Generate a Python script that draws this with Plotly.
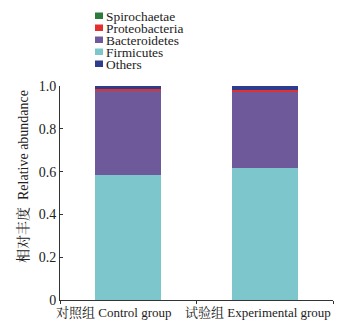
import plotly.graph_objects as go

# Sample groups and phylum-level relative abundance
groups = ["对照组 Control group", "试验组 Experimental group"]
firmicutes = [0.585, 0.615]
bacteroidetes = [0.393, 0.357]
spirochaetae = [0.0004, 0.0004]
proteobacteria = [0.008, 0.010]
others = [0.0136, 0.0176]

y_ticks = [0, 0.2, 0.4, 0.6, 0.8, 1.0]
y_tick_text = ["0", "0.2", "0.4", "0.6", "0.8", "1.0"]
y_title = "相对丰度  Relative abundance"

# Stacking order (bottom to top)
stack = [
    ("Firmicutes", firmicutes, "#7dc7cc"),
    ("Bacteroidetes", bacteroidetes, "#6e5a9a"),
    ("Spirochaetae", spirochaetae, "#2c7a3c"),
    ("Proteobacteria", proteobacteria, "#e2302e"),
    ("Others", others, "#2c3d8e"),
]
# Legend listing order (top to bottom)
legend_order = ["Spirochaetae", "Proteobacteria", "Bacteroidetes", "Firmicutes", "Others"]
colors = {name: c for name, _, c in stack}

SERIF = "'Liberation Serif', 'Times New Roman', 'Noto Serif CJK SC', 'Noto Sans CJK SC', serif"
FS = 14
TXT = "#222"
AXIS = "#333"

# Plot area in pixels (for placing the decorations)
L, R, T, B = 60, 333, 86, 300


def px(xp):
    return (xp - L) / (R - L)


def py(yp):
    return (B - yp) / (B - T)


fig = go.Figure()
for name, vals, color in stack:
    fig.add_trace(go.Bar(
        x=groups, y=vals, name=name,
        marker=dict(color=color, line=dict(width=0)),
        width=0.48, showlegend=False,
    ))

# Compact legend drawn with swatches and text
top = 15.5
step = 12.0
for i, name in enumerate(legend_order):
    yc = top + i * step
    fig.add_shape(type="rect", xref="paper", yref="paper",
                  x0=px(95), x1=px(103),
                  y0=py(yc - 3), y1=py(yc + 3.5),
                  fillcolor=colors[name], line=dict(width=0))
    fig.add_annotation(text=name, xref="paper", yref="paper",
                       x=px(104.5), y=py(yc + 0.5),
                       xanchor="left", yanchor="middle", showarrow=False,
                       borderpad=0,
                       font=dict(family=SERIF, size=13.4, color=TXT))

# Category labels under the bars
for g, shift in zip(groups, [-14, -6.5]):
    fig.add_annotation(text=g, x=g, xref="x", yref="paper", y=0,
                       yanchor="top", yshift=-4, xshift=shift, showarrow=False,
                       borderpad=0,
                       font=dict(family=SERIF, size=13, color=TXT))

# Vertical axis title
fig.add_annotation(text=y_title, xref="paper", yref="paper",
                   x=px(23), y=py(177), textangle=-90,
                   xanchor="center", yanchor="middle", showarrow=False,
                   borderpad=0,
                   font=dict(family=SERIF, size=FS, color=TXT))

fig.update_layout(
    barmode="stack",
    width=362, height=326,
    margin=dict(l=L, r=362 - R, t=T, b=326 - B),
    paper_bgcolor="white", plot_bgcolor="white",
    font=dict(family=SERIF, size=FS, color=TXT),
    xaxis=dict(
        type="category", range=[-0.5, 1.5], showticklabels=False,
        tickson="boundaries", ticks="outside", ticklen=3, tickcolor=AXIS,
        showline=True, linecolor=AXIS, linewidth=1, showgrid=False,
    ),
    yaxis=dict(
        range=[0, 1.0], tickvals=y_ticks, ticktext=y_tick_text,
        ticks="inside", ticklen=3, tickcolor=AXIS,
        showline=True, linecolor=AXIS, linewidth=1, showgrid=False,
        zeroline=False,
        tickfont=dict(family=SERIF, size=FS, color=TXT),
    ),
)

fig.write_html("out.html")
